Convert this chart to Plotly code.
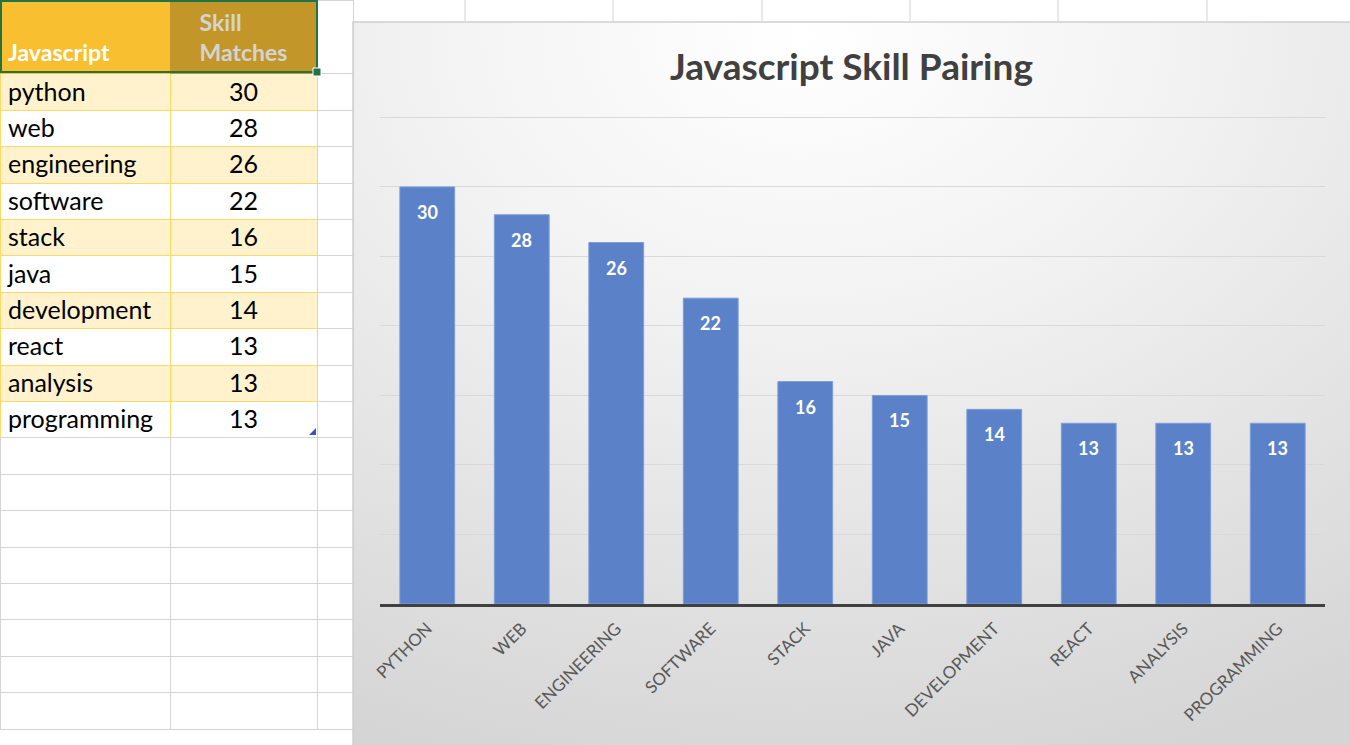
import base64
import plotly.graph_objects as go

# ---------------- data ----------------
skills = ["python", "web", "engineering", "software", "stack",
          "java", "development", "react", "analysis", "programming"]
matches = [30, 28, 26, 22, 16, 15, 14, 13, 13, 13]
tick_labels = [s.upper() for s in skills]
header_labels = ["Javascript", "Skill Matches"]
chart_title = "Javascript Skill Pairing"

W, H = 1350, 745
N_BLANK = 8

fig = go.Figure()

# ---------------- spreadsheet table ----------------
n_rows = len(skills) + N_BLANK
col_a = skills + [""] * N_BLANK
col_b = [str(v) for v in matches] + [""] * N_BLANK
col_c = [""] * n_rows
band = ["#FFF2CC" if i % 2 == 0 else "#FFFFFF" for i in range(len(skills))] + ["#FFFFFF"] * N_BLANK
line_ab = ["#FFD966"] * len(skills) + ["#D4D4D4"] * N_BLANK

fig.add_trace(go.Table(
    domain=dict(x=[0, 353 / W], y=[0, 1]),
    columnwidth=[170, 147, 36],
    header=dict(
        values=[" <br><b>" + header_labels[0] + "</b>",
                "<b>Skill</b><br><b>Matches</b>", ""],
        fill=dict(color=["#F8C030", "#C3962A", "#FFFFFF"]),
        line=dict(color=["#F8C030", "#C3962A", "#D4D4D4"], width=1),
        align=["left", "center", "left"],
        font=dict(family="Lato", size=23, color=["#FFFFFF", "#D4D4D4", "#000000"]),
        height=72,
    ),
    cells=dict(
        values=[col_a, col_b, col_c],
        fill=dict(color=[band, band, ["#FFFFFF"] * n_rows]),
        line=dict(color=[line_ab, line_ab, ["#D4D4D4"] * n_rows], width=1),
        align=["left", "center", "left"],
        font=dict(family="Lato", size=25, color="#000000"),
        height=36.4,
    ),
))

# ---------------- bar chart ----------------
fig.add_trace(go.Bar(
    x=skills, y=matches,
    marker=dict(color="#5B82C8", line=dict(color="#7E9ED8", width=1)),
    width=0.58,
    hoverinfo="x+y",
))

for s, v in zip(skills, matches):
    fig.add_annotation(x=s, y=v, xref="x", yref="y", text="<b>%d</b>" % v,
                       showarrow=False, yshift=-25,
                       font=dict(family="Lato", size=18, color="#FFFFFF"))

# chart area gradient background
svg = ("<svg xmlns='http://www.w3.org/2000/svg' width='1000' height='725' "
       "preserveAspectRatio='none'><defs><radialGradient id='g' cx='0.45' cy='0.02' "
       "r='1.05' gradientUnits='objectBoundingBox'>"
       "<stop offset='0' stop-color='#FFFFFF'/><stop offset='0.35' stop-color='#F3F3F3'/>"
       "<stop offset='1' stop-color='#D5D5D5'/></radialGradient></defs>"
       "<rect width='1000' height='725' fill='url(#g)'/></svg>")
src = "data:image/svg+xml;base64," + base64.b64encode(svg.encode()).decode()
fig.add_layout_image(dict(source=src, xref="paper", yref="paper",
                          x=353 / W, y=1 - 22 / H, sizex=(W - 353) / W, sizey=(H - 22) / H,
                          xanchor="left", yanchor="top", sizing="stretch", layer="below"))

shapes = []
# chart border
shapes.append(dict(type="rect", xref="paper", yref="paper",
                   x0=353 / W, x1=1.01, y0=-0.01, y1=1 - 22 / H,
                   line=dict(color="#CFCFCF", width=1.5), fillcolor="rgba(0,0,0,0)"))
# sheet gridlines above chart
for gx in [465, 613, 762, 910, 1058, 1207]:
    shapes.append(dict(type="line", xref="paper", yref="paper",
                       x0=gx / W, x1=gx / W, y0=1 - 21 / H, y1=1,
                       line=dict(color="#D4D4D4", width=1)))
# selection border on header
shapes.append(dict(type="rect", xref="paper", yref="paper",
                   x0=1 / W, x1=317 / W, y0=1 - 72 / H, y1=1 - 1 / H,
                   line=dict(color="#217346", width=2), fillcolor="rgba(0,0,0,0)"))
shapes.append(dict(type="rect", xref="paper", yref="paper",
                   x0=313 / W, x1=321 / W, y0=1 - 76 / H, y1=1 - 68 / H,
                   line=dict(color="#FFFFFF", width=1), fillcolor="#217346"))
# table resize handle
shapes.append(dict(type="path", xref="paper", yref="paper",
                   path="M %f,%f L %f,%f L %f,%f Z" % (309 / W, 1 - 435 / H, 316 / W, 1 - 435 / H,
                                                      316 / W, 1 - 428 / H),
                   line=dict(width=0), fillcolor="#3F51B5"))

fig.update_layout(
    width=W, height=H,
    margin=dict(l=0, r=0, t=0, b=0, autoexpand=False),
    paper_bgcolor="#FFFFFF",
    plot_bgcolor="rgba(0,0,0,0)",
    showlegend=False,
    bargap=0.42,
    shapes=shapes,
    font=dict(family="Lato"),
    xaxis=dict(domain=[380 / W, 1325 / W], showline=True, linecolor="#404040", linewidth=3,
               ticks="", tickangle=-45, tickmode="array", tickvals=skills, ticktext=tick_labels,
               tickfont=dict(family="Lato", size=17, color="#595959"), automargin=False,
               ticklabelstandoff=5,
               showgrid=False, zeroline=False, fixedrange=True),
    yaxis=dict(domain=[(H - 604) / H, (H - 116) / H], range=[0, 35.1], dtick=5,
               showticklabels=False, showgrid=True, gridcolor="#D9D9D9", gridwidth=1,
               automargin=False, zeroline=False, showline=False, fixedrange=True),
)

fig.add_annotation(xref="paper", yref="paper", x=851 / W, y=1 - 66 / H,
                   text="<b>" + chart_title + "</b>", showarrow=False,
                   xanchor="center", yanchor="middle",
                   font=dict(family="Lato", size=37, color="#404040"))

fig.write_html("out.html")
